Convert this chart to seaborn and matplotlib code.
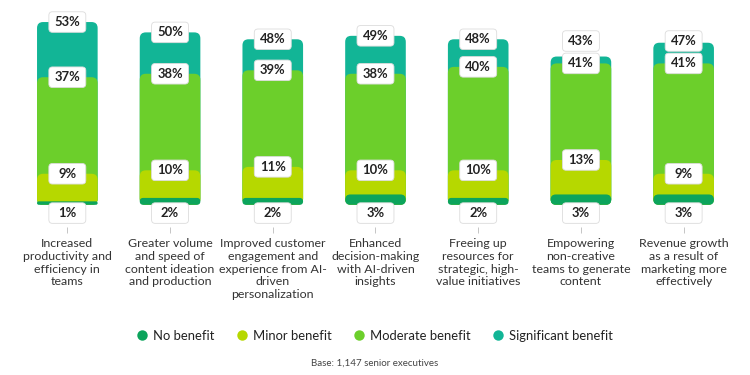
import numpy as np
import pandas as pd
import matplotlib
matplotlib.use("Agg")
import matplotlib.pyplot as plt
import matplotlib.transforms as mtransforms
from matplotlib.patches import FancyBboxPatch
from matplotlib.lines import Line2D
import seaborn as sns

# data (percent of respondents)
categories = [
    "Increased\nproductivity and\nefficiency in\nteams",
    "Greater volume\nand speed of\ncontent ideation\nand production",
    "Improved customer\nengagement and\nexperience from AI-\ndriven\npersonalization",
    "Enhanced\ndecision-making\nwith AI-driven\ninsights",
    "Freeing up\nresources for\nstrategic, high-\nvalue initiatives",
    "Empowering\nnon-creative\nteams to generate\ncontent",
    "Revenue growth\nas a result of\nmarketing more\neffectively",
]
no_benefit = [1, 2, 2, 3, 2, 3, 3]
minor_benefit = [9, 10, 11, 10, 10, 13, 9]
moderate_benefit = [37, 38, 39, 38, 40, 41, 41]
significant_benefit = [53, 50, 48, 49, 48, 43, 47]

series_names = ["No benefit", "Minor benefit", "Moderate benefit", "Significant benefit"]
colors = {
    "No benefit": "#0ca45c",
    "Minor benefit": "#b6d800",
    "Moderate benefit": "#6ccf2b",
    "Significant benefit": "#12b596",
}

# long table, bars overlap (each starts at 0), significant drawn at the back
rows = []
for name, vals in zip(series_names, [no_benefit, minor_benefit, moderate_benefit, significant_benefit]):
    for cat, v in zip(categories, vals):
        rows.append({"category": cat, "series": name, "value": v})
df = pd.DataFrame(rows)

plt.rcParams["font.family"] = ["Lato", "DejaVu Sans"]

fig = plt.figure(figsize=(7.5, 3.75), dpi=100)
ax = fig.add_axes([0.0213, 0.395, 0.9587, 0.583])
ax.set_xlim(-0.5, 6.5)
ax.set_ylim(-6.4, 57)

draw_order = ["Significant benefit", "Moderate benefit", "Minor benefit", "No benefit"]
sns.barplot(data=df, x="category", y="value", hue="series", hue_order=draw_order,
            palette=colors, dodge=False, width=0.59, legend=False, ax=ax,
            order=categories, saturation=1)

# swap the plain rectangles for rounded ones
fig.canvas.draw()
bbox = ax.get_window_extent()
x_per_px = 7.0 / bbox.width
y_per_px = (57 + 6.4) / bbox.height
aspect = y_per_px / x_per_px
r = 6 * x_per_px
old = list(ax.patches)
for p in old:
    x, y = p.get_x(), p.get_y()
    w, h = p.get_width(), p.get_height()
    fc = p.get_facecolor()
    p.remove()
    rs = min(r, h / aspect / 2)
    ax.add_patch(FancyBboxPatch((x, y), w, h,
                                boxstyle=f"round,pad=0,rounding_size={rs}",
                                mutation_aspect=aspect, fc=fc, ec="none", lw=0))


def label_box(xv, yv, text):
    # fixed size white box (in points) centred on a data point
    tr = mtransforms.Affine2D().scale(fig.dpi / 72) + mtransforms.ScaledTranslation(xv, yv, ax.transData)
    box = FancyBboxPatch((-13.3, -7.4), 26.6, 14.8, boxstyle="round,pad=0,rounding_size=2.6",
                         fc="white", ec="#dcdcdc", lw=0.6, transform=tr, clip_on=False, zorder=5)
    ax.add_artist(box)
    ax.text(xv, yv, text, ha="center", va="center", fontsize=9.4, fontweight="bold",
            color="#222222", zorder=6, clip_on=False)


for i in range(len(categories)):
    mod_y = moderate_benefit[i]
    sig_y = max(significant_benefit[i], mod_y + 6.5)
    label_box(i, sig_y, f"{significant_benefit[i]}%")
    label_box(i, mod_y, f"{moderate_benefit[i]}%")
    label_box(i, minor_benefit[i], f"{minor_benefit[i]}%")
    label_box(i, -2.4, f"{no_benefit[i]}%")

sns.despine(ax=ax, left=True, bottom=True)
ax.set_yticks([])
ax.set_xlabel("")
ax.set_ylabel("")
ax.tick_params(axis="x", length=4, width=0.6, color="#bbbbbb", pad=4, labelsize=8.9,
               labelcolor="#333333")
for t in ax.get_xticklabels():
    t.set_linespacing(1.2)

handles = [Line2D([0], [0], marker="o", ls="", markersize=7.5, markerfacecolor=colors[n],
                  markeredgecolor="none") for n in series_names]
fig.legend(handles, series_names, loc="center", bbox_to_anchor=(0.5, 0.105), ncol=4,
           frameon=False, fontsize=9.4, handlelength=0.8, handletextpad=0.45, columnspacing=1.7,
           labelcolor="#222222")
fig.text(0.5, 0.032, "Base: 1,147 senior executives", ha="center", va="center",
         fontsize=7, color="#444444")

fig.savefig("out.png", dpi=100, facecolor="white")
